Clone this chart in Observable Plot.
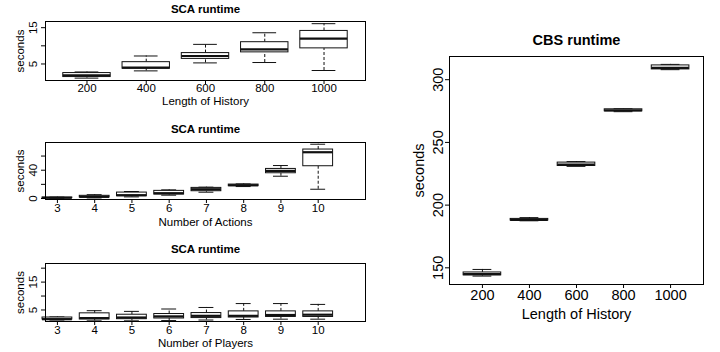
<!DOCTYPE html>
<html>
<head>
<meta charset="utf-8">
<script src="https://cdn.jsdelivr.net/npm/d3@7"></script>
<script src="https://cdn.jsdelivr.net/npm/@observablehq/plot@0.6"></script>
<style>
  body { margin: 0; background: white; }
  #chart { position: relative; width: 720px; height: 352px; background: white; }
  #chart svg { position: absolute; left: 0; top: 0; }
</style>
</head>
<body>
<div id="chart"></div>
<script>
// ---- Data ----
const historyLabels = ["200", "400", "600", "800", "1000"];
const actionLabels = ["3", "4", "5", "6", "7", "8", "9", "10"];
const playerLabels = ["3", "4", "5", "6", "7", "8", "9", "10"];

// SCA runtime vs Length of History (seconds)
const scaHistLow  = [1.1, 3.1, 5.3, 5.4, 3.2];
const scaHistQ1   = [1.4, 3.7, 6.4, 8.2, 9.3];
const scaHistMed  = [1.9, 4.0, 7.2, 9.0, 12.0];
const scaHistQ3   = [2.5, 5.5, 8.0, 11.0, 14.1];
const scaHistHigh = [2.8, 7.2, 10.4, 13.6, 16.1];

// SCA runtime vs Number of Actions (seconds)
const scaActLow  = [0.3, 0.8, 2.3, 4.7, 8.9, 16.9, 31.5, 13.1];
const scaActQ1   = [0.6, 1.5, 3.2, 5.6, 10.3, 17.4, 35.7, 45.6];
const scaActMed  = [1.0, 2.4, 4.7, 7.5, 13.1, 18.8, 39.0, 65.4];
const scaActQ3   = [1.4, 3.8, 8.4, 10.8, 15.0, 19.7, 41.8, 69.2];
const scaActHigh = [1.9, 5.4, 9.9, 12.2, 16.0, 20.6, 46.6, 76.7];

// SCA runtime vs Number of Players (seconds)
const scaPlyLow  = [1.4, 1.1, 1.1, 1.2, 1.4, 1.6, 1.7, 1.7];
const scaPlyQ1   = [1.6, 1.6, 1.7, 1.95, 2.1, 2.3, 2.5, 2.5];
const scaPlyMed  = [1.7, 2.1, 2.3, 2.7, 2.9, 2.9, 3.2, 3.3];
const scaPlyQ3   = [2.3, 3.8, 3.3, 3.55, 3.9, 4.5, 4.5, 4.5];
const scaPlyHigh = [2.5, 4.75, 4.5, 5.35, 5.9, 7.3, 7.3, 7.0];

// CBS runtime vs Length of History (seconds)
const cbsLow  = [143.4, 187.5, 230.9, 274.5, 308.0];
const cbsQ1   = [144.0, 187.7, 231.2, 274.8, 308.2];
const cbsMed  = [145.0, 188.2, 232.3, 275.6, 309.5];
const cbsQ3   = [146.3, 189.0, 233.9, 276.4, 311.4];
const cbsHigh = [148.7, 190.0, 234.7, 276.9, 312.2];

const FONT = "'Liberation Sans', Arial, Helvetica, sans-serif";
const W = 720, H = 352;

function boxPanel(cfg) {
  const rows = cfg.labels.map((label, i) => ({
    label, pos: i + 1,
    lo: cfg.lo[i], q1: cfg.q1[i], med: cfg.med[i], q3: cfg.q3[i], hi: cfg.hi[i]
  }));
  const pos = rows.map(d => d.pos);
  const [l, r, t, b] = cfg.frame;
  const fs = cfg.fs;
  const ink = "#111";
  const txt = {fill: "black", textAnchor: "middle", lineAnchor: "middle"};
  return Plot.plot({
    width: W, height: H,
    marginLeft: l, marginRight: W - r, marginTop: t, marginBottom: H - b,
    x: {domain: cfg.xDomain, axis: null},
    y: {domain: cfg.yDomain, axis: null},
    style: {background: "none", fontFamily: FONT, color: "black", overflow: "visible"},
    marks: [
      Plot.ruleX(rows, {x: "pos", y1: "q3", y2: "hi", stroke: ink, strokeDasharray: "3,2"}),
      Plot.ruleX(rows, {x: "pos", y1: "lo", y2: "q1", stroke: ink, strokeDasharray: "3,2"}),
      Plot.ruleY(rows, {y: "hi", x1: d => d.pos - 0.2, x2: d => d.pos + 0.2, stroke: ink}),
      Plot.ruleY(rows, {y: "lo", x1: d => d.pos - 0.2, x2: d => d.pos + 0.2, stroke: ink}),
      Plot.rect(rows, {x1: d => d.pos - 0.4, x2: d => d.pos + 0.4, y1: "q1", y2: "q3", fill: "white", stroke: ink}),
      Plot.ruleY(rows, {y: "med", x1: d => d.pos - 0.4, x2: d => d.pos + 0.4, stroke: ink, strokeWidth: 2.2}),
      Plot.frame({stroke: "black"}),
      Plot.axisX({ticks: pos, tickSize: 4, tickFormat: () => "", label: null, stroke: "black"}),
      Plot.axisY({ticks: cfg.yTicks, tickSize: 4, tickFormat: () => "", label: null, stroke: "black"}),
      Plot.text(rows, {x: "pos", text: "label", frameAnchor: "bottom", dy: cfg.xTickDy, fontSize: fs, ...txt}),
      Plot.text(cfg.yLabels, {y: d => d, text: d => String(d), frameAnchor: "left", dx: cfg.yTickDx, rotate: -90, fontSize: fs, ...txt}),
      Plot.text([cfg.xTitle], {frameAnchor: "bottom", dy: cfg.xTitleDy, fontSize: fs, ...txt}),
      Plot.text(["seconds"], {frameAnchor: "left", dx: cfg.yTitleDx, rotate: -90, fontSize: fs, ...txt}),
      Plot.text([cfg.title], {frameAnchor: "top", dy: cfg.titleDy, fontSize: cfg.titleFs, fontWeight: "bold", ...txt})
    ]
  });
}

const chart = document.getElementById("chart");

chart.append(boxPanel({
  labels: historyLabels, lo: scaHistLow, q1: scaHistQ1, med: scaHistMed, q3: scaHistQ3, hi: scaHistHigh,
  frame: [45, 365, 21, 80], xDomain: [0.3, 5.7], yDomain: [0.45, 16.7],
  yTicks: [5, 10, 15], yLabels: [5, 15],
  title: "SCA runtime", xTitle: "Length of History",
  fs: 11.5, titleFs: 11.5, titleDy: -12.5, xTickDy: 8, xTitleDy: 20.5, yTickDx: -12.3, yTitleDx: -24.7
}));

chart.append(boxPanel({
  labels: actionLabels, lo: scaActLow, q1: scaActQ1, med: scaActMed, q3: scaActQ3, hi: scaActHigh,
  frame: [45, 365, 142, 199], xDomain: [0.68, 9.27], yDomain: [-1.4, 79.15],
  yTicks: [0, 20, 40, 60], yLabels: [0, 40],
  title: "SCA runtime", xTitle: "Number of Actions",
  fs: 11.5, titleFs: 11.5, titleDy: -13, xTickDy: 9, xTitleDy: 22.5, yTickDx: -12.3, yTitleDx: -24.7
}));

chart.append(boxPanel({
  labels: playerLabels, lo: scaPlyLow, q1: scaPlyQ1, med: scaPlyMed, q3: scaPlyQ3, hi: scaPlyHigh,
  frame: [45, 365, 263, 321], xDomain: [0.68, 9.27], yDomain: [0.87, 21.67],
  yTicks: [5, 10, 15, 20], yLabels: [5, 15],
  title: "SCA runtime", xTitle: "Number of Players",
  fs: 11.5, titleFs: 11.5, titleDy: -14, xTickDy: 9.3, xTitleDy: 22.3, yTickDx: -12.3, yTitleDx: -24.7
}));

chart.append(boxPanel({
  labels: historyLabels, lo: cbsLow, q1: cbsQ1, med: cbsMed, q3: cbsQ3, hi: cbsHigh,
  frame: [449, 703, 56, 284], xDomain: [0.3, 5.7], yDomain: [136.7, 318.5],
  yTicks: [150, 200, 250, 300], yLabels: [150, 200, 250, 300],
  title: "CBS runtime", xTitle: "Length of History",
  fs: 14.5, titleFs: 14.5, titleDy: -16.5, xTickDy: 11, xTitleDy: 29.5, yTickDx: -11.5, yTitleDx: -30.5
}));
</script>
</body>
</html>
